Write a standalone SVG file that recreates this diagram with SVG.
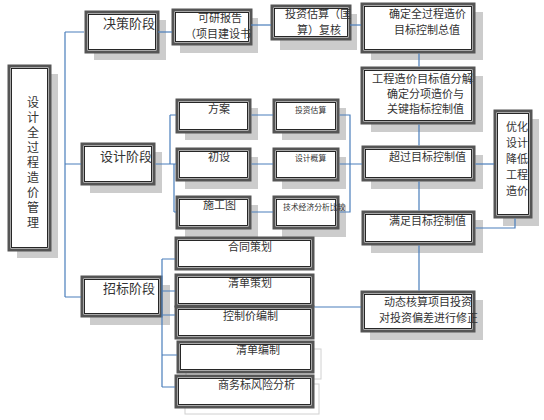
<svg xmlns="http://www.w3.org/2000/svg" width="544" height="420" viewBox="0 0 544 420">
<style>
.sh{fill:#cccccc}
.lt{fill:none;stroke:#d0d0d0;stroke-width:1}
.o{fill:#fff;stroke:#555;stroke-width:3}
.i{fill:none;stroke:#111;stroke-width:0.9}
text{font-family:"Noto Sans CJK SC","Liberation Serif",sans-serif;fill:#333}
.t11{font-size:11px}
.t12{font-size:12px}
.t13{font-size:13px}
.t8{font-size:7.8px}
.c{fill:none;stroke:#4a7ebb;stroke-width:1.2}
</style>
<rect width="544" height="420" fill="#fff"/>

<g id="root">
<rect class="sh" x="17" y="74" width="41" height="184"/>
<rect class="o" x="9" y="66" width="41" height="184"/>
<rect class="i" x="11.5" y="68.5" width="36" height="179"/>
<text class="t12" x="33" y="96" writing-mode="tb" letter-spacing="3">设计全过程造价管理</text>
</g>

<g id="juece">
<rect class="sh" x="94" y="20" width="72" height="40"/>
<rect class="o" x="86" y="12" width="72" height="40"/>
<rect class="i" x="88.5" y="14.5" width="67" height="35"/>
<text class="t13" x="103" y="28">决策阶段</text>
</g>

<g id="keyan">
<rect class="sh" x="180" y="18" width="78" height="35"/>
<rect class="o" x="173" y="10" width="78" height="34"/>
<rect class="i" x="175.5" y="12.5" width="73" height="29"/>
<text class="t11" x="198" y="22">可研报告</text>
<text class="t11" x="185" y="38">（项目建设书</text>
</g>

<g id="touzi-gusuan-fuhe">
<rect class="sh" x="280" y="14" width="77" height="36"/>
<rect class="o" x="272" y="6" width="78" height="33"/>
<rect class="i" x="274.5" y="8.5" width="73" height="28"/>
<text class="t11" x="285" y="18">投资估算（匡</text>
<text class="t11" x="297" y="34">算）复核</text>
</g>

<g id="zongzhi">
<rect class="sh" x="371" y="12" width="112" height="48"/>
<rect class="o" x="362" y="4" width="112" height="48"/>
<rect class="i" x="364.5" y="6.5" width="107" height="43"/>
<text class="t11" x="389" y="18">确定全过程造价</text>
<text class="t11" x="394" y="34">目标控制总值</text>
</g>

<g id="fenjie">
<rect class="sh" x="371" y="76" width="112" height="56"/>
<rect class="o" x="362" y="68" width="112" height="55"/>
<rect class="i" x="364.5" y="70.5" width="107" height="50"/>
<text class="t11" x="372" y="83" textLength="101" lengthAdjust="spacingAndGlyphs">工程造价目标值分解</text>
<text class="t11" x="387" y="98">确定分项造价与</text>
<text class="t11" x="387" y="113">关键指标控制值</text>
</g>

<g id="chaoguo">
<rect class="sh" x="371" y="155" width="112" height="34"/>
<rect class="o" x="363" y="147" width="111" height="33"/>
<rect class="i" x="365.5" y="149.5" width="106" height="28"/>
<text class="t11" x="389" y="161">超过目标控制值</text>
</g>

<g id="manzu">
<rect class="sh" x="371" y="220" width="112" height="33"/>
<rect class="o" x="363" y="212" width="111" height="32"/>
<rect class="i" x="365.5" y="214.5" width="106" height="27"/>
<text class="t11" x="389" y="225">满足目标控制值</text>
</g>

<g id="dongtai">
<rect class="sh" x="370" y="300" width="113" height="40"/>
<rect class="o" x="362" y="292" width="112" height="39"/>
<rect class="i" x="364.5" y="294.5" width="107" height="34"/>
<text class="t11" x="384" y="306">动态核算项目投资</text>
<text class="t11" x="379" y="322">对投资偏差进行修正</text>
</g>

<g id="youhua">
<rect class="sh" x="503" y="119" width="36" height="107"/>
<rect class="o" x="495" y="111" width="36" height="106"/>
<rect class="i" x="497.5" y="113.5" width="31" height="101"/>
<g class="t11">
<text x="506" y="131">优化</text><text x="506" y="147">设计</text><text x="506" y="163">降低</text>
<text x="506" y="179">工程</text><text x="506" y="195">造价</text>
</g>
</g>

<g id="sheji">
<rect class="sh" x="90" y="152" width="72" height="41"/>
<rect class="o" x="82" y="144" width="72" height="40"/>
<rect class="i" x="84.5" y="146.5" width="67" height="35"/>
<text class="t13" x="100" y="161">设计阶段</text>
</g>

<g id="fangan">
<rect class="sh" x="185" y="108" width="73" height="32"/>
<rect class="o" x="177" y="100" width="73" height="32"/>
<rect class="i" x="179.5" y="102.5" width="68" height="27"/>
<text class="t11" x="208" y="113">方案</text>
</g>

<g id="chushe">
<rect class="sh" x="185" y="157" width="73" height="32"/>
<rect class="o" x="177" y="149" width="73" height="31"/>
<rect class="i" x="179.5" y="151.5" width="68" height="26"/>
<text class="t11" x="208" y="161">初设</text>
</g>

<g id="shigongtu">
<rect class="sh" x="185" y="205" width="73" height="32"/>
<rect class="o" x="177" y="197" width="73" height="31"/>
<rect class="i" x="179.5" y="199.5" width="68" height="26"/>
<text class="t11" x="203" y="209">施工图</text>
</g>

<g id="touzigusuan">
<rect class="sh" x="282" y="108" width="64" height="32"/>
<rect class="o" x="274" y="100" width="64" height="32"/>
<rect class="i" x="276.5" y="102.5" width="59" height="27"/>
<text class="t8" x="295" y="113">投资估算</text>
</g>

<g id="shejigaisuan">
<rect class="sh" x="282" y="157" width="64" height="32"/>
<rect class="o" x="274" y="149" width="64" height="31"/>
<rect class="i" x="276.5" y="151.5" width="59" height="26"/>
<text class="t8" x="295" y="161">设计概算</text>
</g>

<g id="jishujingji">
<rect class="sh" x="282" y="205" width="64" height="32"/>
<rect class="o" x="274" y="197" width="64" height="31"/>
<rect class="i" x="276.5" y="199.5" width="59" height="26"/>
<text class="t8" x="283" y="210">技术经济分析比较</text>
</g>

<g id="zhaobiao">
<rect class="sh" x="90" y="285" width="80" height="40"/>
<rect class="o" x="82" y="277" width="79" height="39"/>
<rect class="i" x="84.5" y="279.5" width="74" height="34"/>
<text class="t13" x="103" y="293">招标阶段</text>
</g>

<g id="hetong">
<rect class="o" x="176" y="238" width="137" height="31"/>
<rect class="i" x="178.5" y="240.5" width="132" height="26"/>
<text class="t11" x="228" y="251">合同策划</text>
</g>

<g id="qingdancehua">
<rect class="o" x="176" y="275" width="137" height="31"/>
<rect class="i" x="178.5" y="277.5" width="132" height="26"/>
<text class="t11" x="228" y="287">清单策划</text>
</g>

<g id="kongzhijia">
<rect class="o" x="176" y="307" width="137" height="31"/>
<rect class="i" x="178.5" y="309.5" width="132" height="26"/>
<text class="t11" x="223" y="320">控制价编制</text>
</g>

<g id="qingdanbianzhi">
<rect class="lt" x="186" y="349" width="135" height="30"/>
<rect class="o" x="178" y="342" width="135" height="30"/>
<rect class="i" x="180.5" y="344.5" width="130" height="25"/>
<text class="t11" x="236" y="354">清单编制</text>
</g>

<g id="shangwubiao">
<rect class="lt" x="185" y="384" width="134" height="30"/>
<rect class="o" x="176" y="376" width="137" height="31"/>
<rect class="i" x="178.5" y="378.5" width="132" height="26"/>
<text class="t11" x="218" y="389">商务标风险分析</text>
</g>

<g id="connectors" class="c">
<path class="c" d="M65 32 V297 M65 32 H84 M65 164 H81 M65 297 H81"/>
<path class="c" d="M158 32 H172"/>
<path class="c" d="M251 25 H271"/>
<path class="c" d="M350 25 H361"/>
<path class="c" d="M419 53.5 V66.5 M419 124.5 V145.5 M419 181.5 V210.5 M419 245.5 V290.5"/>
<path class="c" d="M155.5 164 H176 M170 115 V164 M174 164 V212 M170 115 H176 M174 212 H176"/>
<path class="c" d="M251.5 115 H273 M251.5 164 H273 M251.5 212 H273"/>
<path class="c" d="M339.5 115 H350 V212 H339.5 M339.5 164 H362"/>
<path class="c" d="M475.5 164 H494"/>
<path class="c" d="M475.5 228 H515 V218.5"/>
<path class="c" d="M162 291 H175 M162 259 V387 M162 259 H175 M162 315 H175 M162 355 H177 M162 387 H175"/>
<path class="c" d="M314.5 307 H361"/>
</g>
</svg>
